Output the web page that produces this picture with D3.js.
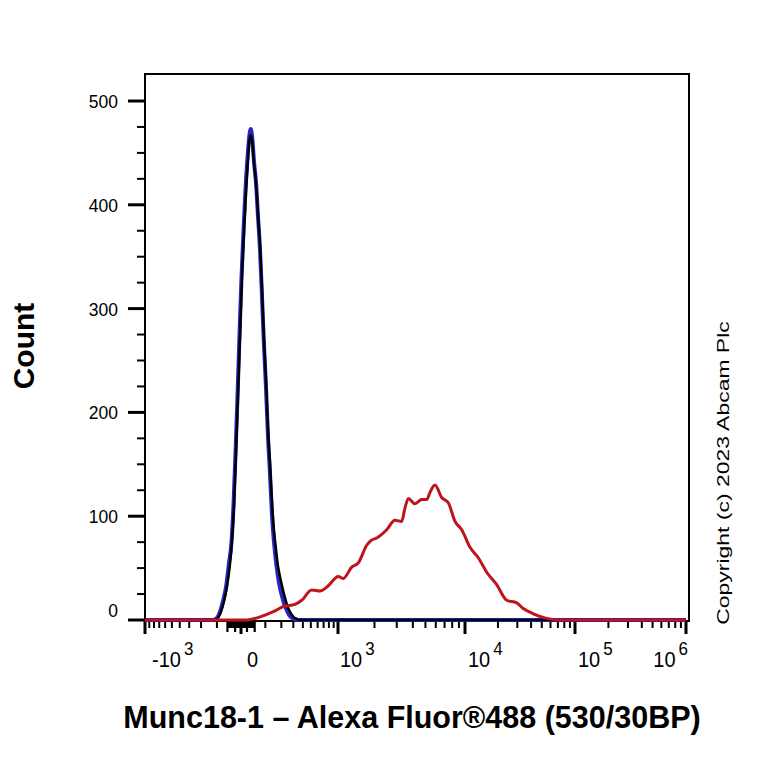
<!DOCTYPE html>
<html><head><meta charset="utf-8">
<script src="https://cdn.jsdelivr.net/npm/d3@7"></script>
<style>body{margin:0;background:#fff}</style>
</head><body>
<svg id="chart" width="768" height="764"></svg>
<script>
// ---------- DATA ----------
const countTicks = [0, 100, 200, 300, 400, 500];
const countMinorTicks = [25, 50, 75, 125, 150, 175, 225, 250, 275, 325, 350, 375, 425, 450, 475];

const xMajorTicks = [-1000, 0, 1000, 10000, 100000, 1000000];
const xMajorBase = ["-10", "0", "10", "10", "10", "10"];
const xMajorExp = ["3", "", "3", "4", "5", "6"];
const xMinorTicks = [-900, -800, -700, -600, -500, -400, -300, -200, -100,
  100, 200, 300, 400, 500, 600, 700, 800, 900,
  2000, 3000, 4000, 5000, 6000, 7000, 8000, 9000,
  20000, 30000, 40000, 50000, 60000, 70000, 80000, 90000,
  200000, 300000, 400000, 500000, 600000, 700000, 800000, 900000];
const xZeroTicks = [-50, -45, -40, -35, -30, -25, -20, -15, -10, -5, 5, 10, 15, 20, 25, 30, 35, 40, 45, 50];

// unstained (black)
const blackX = [-1000, -116, -100, -79, -65, -52, -39, -32, -24, -17, -10, -3, 3, 10, 17, 24, 29, 34, 39, 47, 56, 64, 74, 83, 93, 104, 114, 126, 138, 150, 163, 176, 190, 205, 220, 236, 252, 279, 306, 336, 368, 1000000];
const blackCount = [0, 0, 1, 8, 18, 32, 55, 75, 110, 160, 215, 275, 330, 375, 415, 445, 462, 467, 462, 440, 420, 392, 360, 320, 270, 230, 185, 150, 112, 86, 68, 52, 42, 33, 25, 18, 12, 6, 2.5, 1, 0, 0];

// isotype control (blue)
const blueX = [-1000, -122, -105, -84, -70, -56, -43.5, -33.5, -26, -18.6, -11.6, -4.8, 1.6, 8.1, 14.9, 21.9, 28.2, 34, 39.8, 47, 56, 64, 74, 83, 93, 104, 114, 126, 138, 150, 163, 176, 190, 205, 220, 236, 261, 288, 316, 346, 1000000];
const blueCount = [0, 0, 1, 8, 18, 32, 55, 75, 110, 160, 215, 275, 330, 375, 415, 445, 465, 473, 465, 442, 420, 390, 355, 312, 265, 222, 178, 140, 100, 75, 56, 42, 31, 23, 16, 11, 5, 2, 0.5, 0, 0];

// Munc18-1 stained (red)
const redX = [-1000, 19, 74, 146, 215, 316, 387, 512, 638, 788, 1005, 1109, 1305, 1479, 1731, 1900, 2083, 2500, 2906, 3278, 3478, 3689, 4157, 4680, 5113, 5420, 5918, 6657, 7473, 8402, 9443, 11114, 13236, 15796, 19483, 24026, 29615, 34000, 41889, 55425, 73170, 1000000];
const redCount = [0, 0, 3, 8, 13, 15, 19, 29, 28, 33, 42, 40, 51, 55, 72, 77, 79, 87, 96, 95, 108, 117, 112, 116, 116, 123, 130, 118, 113, 95, 87, 70, 60, 46, 34, 19, 16.5, 11, 6, 1.6, 0, 0];

const xTitle = "Munc18-1 \u2013 Alexa Fluor\u00AE488 (530/30BP)";
const yTitle = "Count";
const copyright = "Copyright (c) 2023 Abcam Plc";

// ---------- LAYOUT ----------
const L = 145, R = 689, T = 74, B = 621;
const svg = d3.select("#chart");
const FONT = "'Liberation Sans', Arial, Helvetica, sans-serif";

// biexponential-like display transform
const tf = v => Math.sign(v) * Math.log10(1 + Math.abs(v) / 150);
const xKnots = [-1000, 0, 1000, 10000, 100000, 1000000];
const xKnotPx = [145, 241, 338, 465, 575, 686];
const xLin = d3.scaleLinear().domain(xKnots.map(tf)).range(xKnotPx);
const x = v => xLin(tf(v));
const y = d3.scaleLinear().domain([0, 500]).range([620, 101]);

// frame
svg.append("rect").attr("x", L).attr("y", T).attr("width", R - L).attr("height", B - T)
  .attr("fill", "none").attr("stroke", "#000").attr("stroke-width", 2);

// y ticks
const gy = svg.append("g");
gy.selectAll("line.maj").data(countTicks).join("line")
  .attr("x1", 128).attr("x2", L).attr("y1", d => y(d)).attr("y2", d => y(d))
  .attr("stroke", "#000").attr("stroke-width", 3);
gy.selectAll("line.min").data(countMinorTicks).join("line")
  .attr("x1", 137).attr("x2", L).attr("y1", d => y(d)).attr("y2", d => y(d))
  .attr("stroke", "#000").attr("stroke-width", 2);
gy.selectAll("text").data(countTicks).join("text")
  .attr("transform", d => `translate(118,${Math.min(y(d) + 7, 617)}) scale(1,1.08)`)
  .attr("text-anchor", "end").attr("font-family", FONT).attr("font-size", 17.5)
  .text(d => d);

// x ticks
const gx = svg.append("g");
gx.selectAll("line.min").data(xMinorTicks).join("line")
  .attr("x1", d => x(d)).attr("x2", d => x(d)).attr("y1", B).attr("y2", B + 7)
  .attr("stroke", "#000").attr("stroke-width", 2);
gx.selectAll("line.zero").data(xZeroTicks).join("line")
  .attr("x1", d => x(d)).attr("x2", d => x(d)).attr("y1", B)
  .attr("y2", d => B + ([50, 20].includes(Math.abs(d)) ? 11 : 7))
  .attr("stroke", "#000").attr("stroke-width", 2.2);
gx.selectAll("line.maj").data(xMajorTicks).join("line")
  .attr("x1", d => x(d)).attr("x2", d => x(d)).attr("y1", B).attr("y2", B + 13)
  .attr("stroke", "#000").attr("stroke-width", 3);

const labelDx = [7, 6, 2, 3, 3, 2];
const labels = gx.selectAll("text").data(xMajorTicks).join("text")
  .attr("transform", (d, i) => `translate(${x(d) + labelDx[i]},667) scale(1,1.12)`)
  .attr("text-anchor", (d, i) => i === xMajorTicks.length - 1 ? "end" : "start")
  .attr("font-family", FONT).attr("font-size", 20);
labels.append("tspan").text((d, i) => xMajorBase[i]);
labels.append("tspan").attr("dx", 3).attr("dy", -11).attr("font-size", 17).text((d, i) => xMajorExp[i]);

// curves
const line = d3.line().x(d => x(d[0])).y(d => y(d[1])).curve(d3.curveMonotoneX);
const series = [
  {xs: blueX, ys: blueCount, color: "#2626c8", w: 4},
  {xs: blackX, ys: blackCount, color: "#000000", w: 2.5},
  {xs: redX, ys: redCount, color: "#c0141c", w: 3}
];
series.forEach(s => {
  svg.append("path").datum(s.xs.map((v, i) => [v, s.ys[i]]))
    .attr("d", line).attr("fill", "none").attr("stroke", s.color)
    .attr("stroke-width", s.w).attr("stroke-linejoin", "round");
});

// titles
svg.append("text").attr("x", 412).attr("y", 728).attr("text-anchor", "middle")
  .attr("font-family", FONT).attr("font-weight", "bold").attr("font-size", 30.5)
  .text(xTitle);
svg.append("text").attr("transform", "translate(34,346) rotate(-90)").attr("text-anchor", "middle")
  .attr("font-family", FONT).attr("font-weight", "bold").attr("font-size", 30)
  .text(yTitle);
svg.append("text").attr("transform", "translate(729,473) rotate(-90) scale(1.35,1)").attr("text-anchor", "middle")
  .attr("font-family", FONT).attr("font-size", 17)
  .text(copyright);
</script>
</body></html>
